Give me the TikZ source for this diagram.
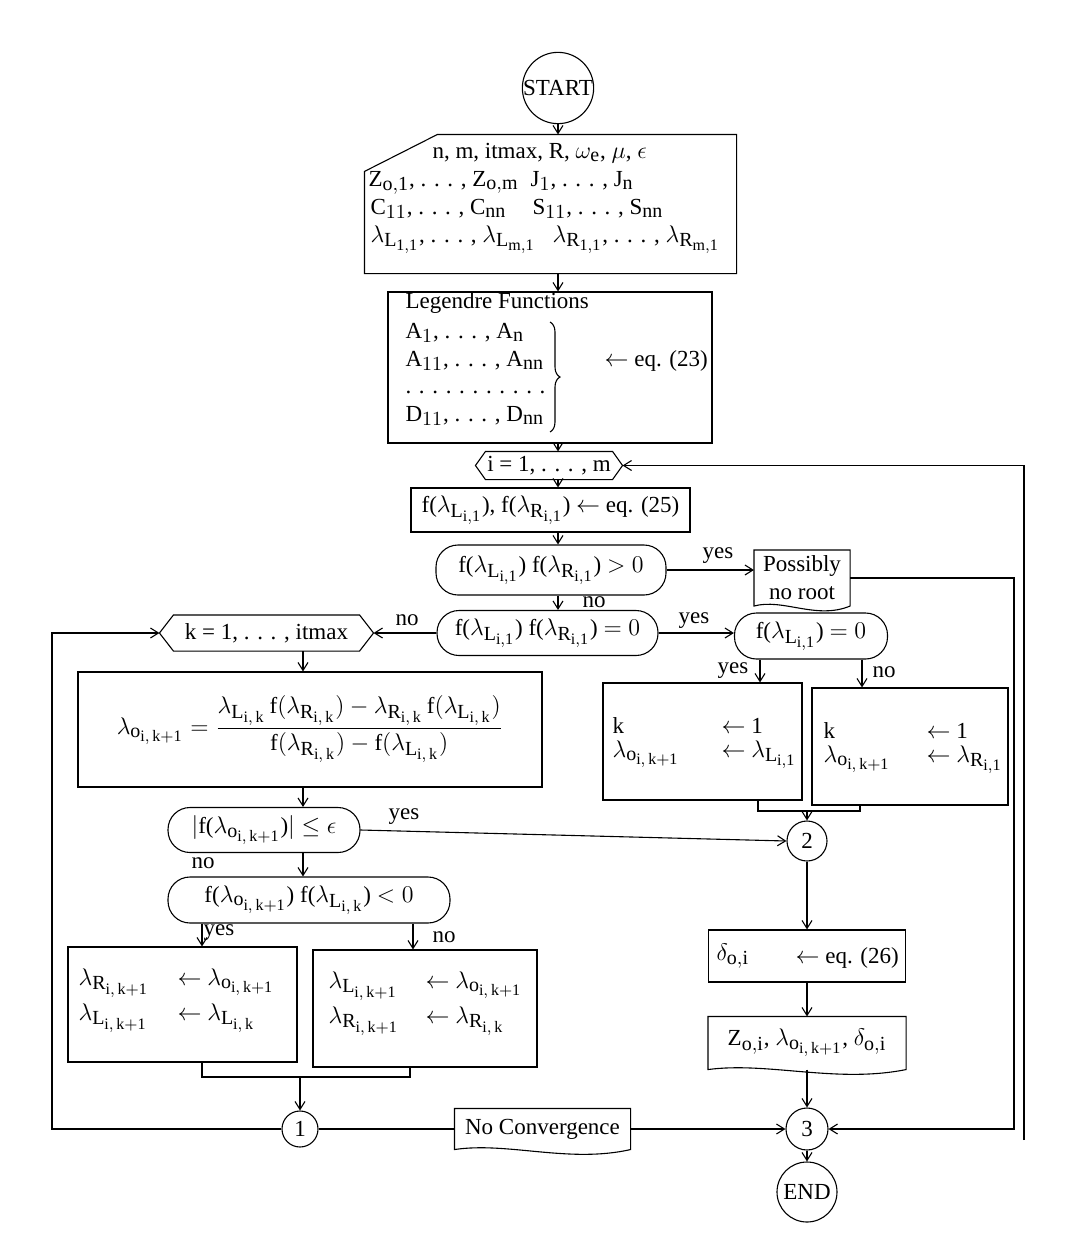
\documentclass[tikz,border=0pt]{standalone}
\usepackage{fontspec}
\setmainfont{Liberation Serif}
\usetikzlibrary{calc,arrows.meta,decorations.pathreplacing}
\DeclareMathSizes{11.5}{11.5}{10}{8}
\newcommand{\lmb}[2]{\ensuremath{\lambda_{\mathrm{#1}_{\mathrm{#2}}}}}
\newcommand{\fsz}{\fontsize{11.5}{14}\selectfont}
\newcommand{\docshape}[1]{\draw (#1.north west) -- (#1.north east) -- (#1.south east) .. controls ($(#1.south east)!0.35!(#1.south west)+(0,14)$) and ($(#1.south east)!0.7!(#1.south west)+(0,-8)$) .. (#1.south west) -- cycle;}
\newcommand{\hexshape}[2]{\draw (#1.west) -- ($(#1.north west)+(#2,0)$) -- ($(#1.north east)+(-#2,0)$) -- (#1.east) -- ($(#1.south east)+(-#2,0)$) -- ($(#1.south west)+(#2,0)$) -- cycle;}
\begin{document}
\begin{tikzpicture}[x=0.5pt,y=-0.5pt,font=\fsz,line width=0.55pt,
  >={Straight Barb[length=4pt,width=5pt]},
  box/.style={draw,inner sep=0pt},
  ghost/.style={inner sep=0pt},
  dec/.style={draw,rounded corners=11pt,inner sep=0pt},
  conn/.style={draw,circle,inner sep=0pt},
  txt/.style={inner sep=0pt,anchor=base west},
  lbl/.style={inner sep=0pt},
  arr/.style={->}]
\fill[white] (0,0) rectangle (1078,1253);
\useasboundingbox (0,0) rectangle (1078,1253);

% ---------- nodes ----------
\node[conn,minimum size=33pt] (start) at (558,88) {START};

\node[ghost,minimum width=185.5pt,minimum height=69pt] (inp) at (550.5,204) {};
\draw ($(inp.north west)+(0,37)$) -- ($(inp.north west)+(73,0)$) -- (inp.north east) -- (inp.south east) -- (inp.south west) -- cycle;
\node[txt] (i1) at (432,158) {n, m, itmax, R, $\omega_{\mathrm e}$, $\mu$, $\epsilon$};
\node[txt] (i2a) at (368,186) {Z$_{\mathrm{o,1}}$, . . . , Z$_{\mathrm{o,m}}$};
\node[txt] (i2b) at (530,186) {J$_1$, . . . , J$_{\mathrm n}$};
\node[txt] (i3a) at (370,214) {C$_{11}$, . . . , C$_{\mathrm{nn}}$};
\node[txt] (i3b) at (532,214) {S$_{11}$, . . . , S$_{\mathrm{nn}}$};
\node[txt] (i4a) at (370,242) {\lmb{L}{1,1}, . . . , \lmb{L}{m,1}};
\node[txt] (i4b) at (552,242) {\lmb{R}{1,1}, . . . , \lmb{R}{m,1}};

\node[box,minimum width=162pt,minimum height=75.5pt] (leg) at (550,367.5) {};
\node[txt] (l1) at (405,308) {Legendre Functions};
\node[txt] (l2) at (405,338) {A$_1$, . . . , A$_{\mathrm n}$};
\node[txt] (l3) at (405,366) {A$_{11}$, . . . , A$_{\mathrm{nn}}$};
\node[txt] (l4) at (405,393) {. . . . . . . . . . .};
\node[txt] (l5) at (405,421) {D$_{11}$, . . . , D$_{\mathrm{nn}}$};
\coordinate (bt) at (550,322);
\coordinate (bb) at (550,432);
\draw[decorate,decoration={brace,amplitude=5pt}] (bt) -- (bb);
\node[txt] (l6) at (604,366) {$\leftarrow$ eq. (23)};

\node[ghost,minimum width=73pt,minimum height=13.5pt] (ihex) at (549,465.5) {i = 1, . . . , m};
\hexshape{ihex}{10}

\node[box,minimum width=139.5pt,minimum height=22pt] (e25) at (550.5,510) {f(\lmb{L}{i,1}), f(\lmb{R}{i,1}) $\leftarrow$ eq. (25)};

\node[dec,minimum width=115pt,minimum height=25pt] (fpos) at (551,570) {f(\lmb{L}{i,1}) f(\lmb{R}{i,1}) $>0$};

\node[ghost,minimum width=47.5pt,minimum height=27.5pt,align=center] (poss) at (802,578) {Possibly\\no root};
\docshape{poss}

\node[dec,minimum width=110.5pt,minimum height=22.5pt] (feq) at (547.5,633) {f(\lmb{L}{i,1}) f(\lmb{R}{i,1}) $=0$};
\node[dec,minimum width=76.5pt,minimum height=23pt] (fl0) at (811,636) {f(\lmb{L}{i,1}) $=0$};

\node[ghost,minimum width=106.5pt,minimum height=17.5pt] (khex) at (266.5,633) {k = 1, . . . , itmax};
\hexshape{khex}{14}

\node[box,minimum width=99.5pt,minimum height=58.5pt] (kb1) at (702.5,741.5) {};
\node[txt] (k1a) at (612,733) {k};
\node[txt] (k1b) at (612,757) {\lmb{o}{i,\,k+1}};
\node[txt] (k1c) at (721,733) {$\leftarrow$ 1};
\node[txt] (k1d) at (721,757) {$\leftarrow$ \lmb{L}{i,1}};

\node[box,minimum width=98pt,minimum height=58.5pt] (kb2) at (910,746.5) {};
\node[txt] (k2a) at (823,738) {k};
\node[txt] (k2b) at (823,762) {\lmb{o}{i,\,k+1}};
\node[txt] (k2c) at (926,738) {$\leftarrow$ 1};
\node[txt] (k2d) at (926,762) {$\leftarrow$ \lmb{R}{i,1}};

\node[box,minimum width=232pt,minimum height=57.5pt] (form) at (310,729.5) {};
\node[inner sep=0pt] (ftxt) at (310,729) {$\displaystyle \lmb{o}{i,\,k+1} = \frac{\lmb{L}{i,\,k}\,\mathrm{f}(\lmb{R}{i,\,k}) - \lmb{R}{i,\,k}\,\mathrm{f}(\lmb{L}{i,\,k})}{\mathrm{f}(\lmb{R}{i,\,k}) - \mathrm{f}(\lmb{L}{i,\,k})}$};

\node[dec,minimum width=96pt,minimum height=22.5pt] (eps) at (264,830) {$|$f(\lmb{o}{i,\,k+1})$|\leq\epsilon$};

\node[dec,minimum width=141pt,minimum height=23pt] (fneg) at (309,900) {f(\lmb{o}{i,\,k+1}) f(\lmb{L}{i,\,k}) $<0$};

\node[box,minimum width=114.5pt,minimum height=57.5pt] (lb) at (182.5,1004.5) {};
\node[txt] (lb1) at (78,985) {\lmb{R}{i,\,k+1}};
\node[txt] (lb2) at (177,985) {$\leftarrow$ \lmb{o}{i,\,k+1}};
\node[txt] (lb3) at (78,1020) {\lmb{L}{i,\,k+1}};
\node[txt] (lb4) at (177,1020) {$\leftarrow$ \lmb{L}{i,\,k}};

\node[box,minimum width=112pt,minimum height=58.5pt] (rb) at (425,1008.5) {};
\node[txt] (rb1) at (328,988) {\lmb{L}{i,\,k+1}};
\node[txt] (rb2) at (425,988) {$\leftarrow$ \lmb{o}{i,\,k+1}};
\node[txt] (rb3) at (328,1023) {\lmb{R}{i,\,k+1}};
\node[txt] (rb4) at (425,1023) {$\leftarrow$ \lmb{R}{i,\,k}};

\node[conn,minimum size=20pt] (c2) at (807,841) {2};

\node[box,minimum width=98.5pt,minimum height=26pt] (e26) at (807,956) {};
\node[txt] (e26a) at (716,960) {$\delta_{\mathrm{o,i}}$};
\node[txt] (e26b) at (795,963) {$\leftarrow$ eq. (26)};

\node[ghost,minimum width=98.5pt,minimum height=26pt] (zb) at (807,1043) {Z$_{\mathrm{o,i}}$, \lmb{o}{i,\,k+1}, $\delta_{\mathrm{o,i}}$};
\docshape{zb}

\node[conn,minimum size=21pt] (c3) at (807,1129) {3};
\node[conn,minimum size=30pt] (end) at (807,1192) {END};

\node[ghost,minimum width=87.5pt,minimum height=20pt] (nc) at (542.5,1129) {No Convergence};
\docshape{nc}
\node[conn,minimum size=18pt] (c1) at (300,1129) {1};

% ---------- labels ----------
\node[lbl] (ly1) at (718,556) {yes};
\node[lbl] (ln1) at (594,602) {no};
\node[lbl] (ly2) at (694,621) {yes};
\node[lbl] (ln2) at (407,620) {no};
\node[lbl] (ly3) at (733,671) {yes};
\node[lbl] (ln3) at (884,672) {no};
\node[lbl] (ly4) at (404,817) {yes};
\node[lbl] (ln4) at (203,863) {no};
\node[lbl] (ly5) at (219,933) {yes};
\node[lbl] (ln5) at (444,937) {no};

% ---------- coordinates ----------
\coordinate (rin) at (1014,1129);
\coordinate (rout) at (1024,1140);
\coordinate (yx) at (760,0);
\coordinate (nx) at (862,0);
\coordinate (m1) at (758,811);
\coordinate (m2) at (860,811);
\coordinate (colx) at (303,0);
\coordinate (yx2) at (202,0);
\coordinate (nx2) at (413,0);
\coordinate (m3) at (202,1077);
\coordinate (m4) at (410,1077);
\coordinate (kl) at (52,1129);

% ---------- connectors ----------
\draw[arr] (start.south) -- (start.south |- inp.north);
\draw[arr] (inp.south -| start) -- (leg.north -| start);
\draw[arr] (leg.south -| start) -- (ihex.north -| start);
\draw[arr] (ihex.south -| start) -- (e25.north -| start);
\draw[arr] (e25.south -| start) -- (fpos.north -| start);
\draw[arr] (fpos.east) -- (fpos.east -| poss.west);
\draw[arr] (fpos.south -| start) -- (feq.north -| start);
\draw[arr] (feq.east) -- (feq.east -| fl0.west);
\draw[arr] (feq.west) -- (khex.east);
\draw[arr] (poss.east) -| (rin) -- (c3.east);
\draw[arr] (rout) |- (ihex.east);
\draw[arr] (fl0.south -| yx) -- (kb1.north -| yx);
\draw[arr] (fl0.south -| nx) -- (kb2.north -| nx);
\draw (kb1.south -| m1) -- (m1) -- (m2) -- (kb2.south -| m2);
\draw[arr] (c2 |- m1) -- (c2.north);
\draw[arr] (khex.south -| colx) -- (form.north -| colx);
\draw[arr] (form.south -| colx) -- (eps.north -| colx);
\draw[arr] (eps.east) -- (c2.west);
\draw[arr] (eps.south -| colx) -- (fneg.north -| colx);
\draw[arr] (fneg.south -| yx2) -- (lb.north -| yx2);
\draw[arr] (fneg.south -| nx2) -- (rb.north -| nx2);
\draw (lb.south -| m3) -- (m3) -- (m4) -- (rb.south -| m4);
\draw[arr] (c1 |- m3) -- (c1.north);
\draw (c1.east) -- (nc.west);
\draw[arr] (nc.east) -- (c3.west);
\draw[arr] (c1.west) -- (kl) |- (khex.west);
\draw[arr] (c2.south) -- (e26.north -| c2);
\draw[arr] (e26.south -| c2) -- (zb.north -| c2);
\draw[arr] (zb.south -| c3) -- (c3.north);
\draw[arr] (c3.south) -- (end.north);
\end{tikzpicture}
\end{document}
